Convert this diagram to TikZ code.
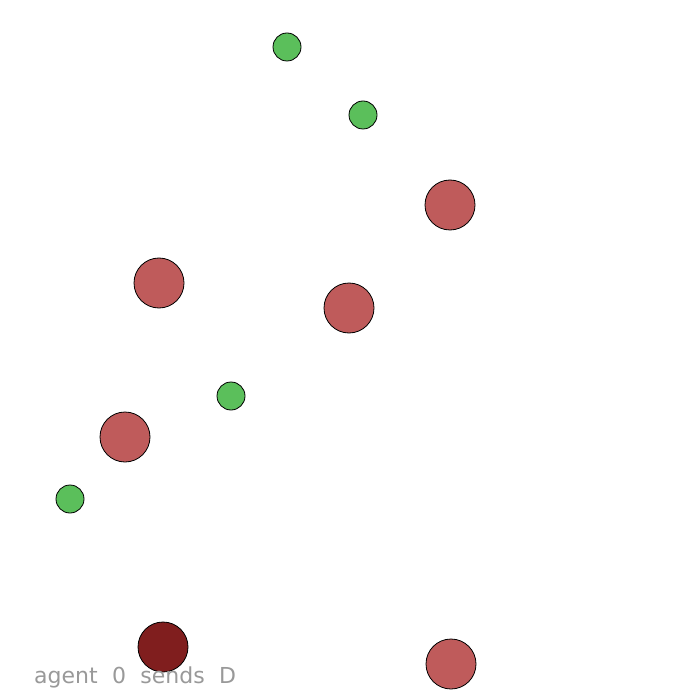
\documentclass[tikz,border=0pt]{standalone}
\usepackage{fontspec}
\setsansfont{DejaVu Sans}
\definecolor{agentgreen}{RGB}{91,191,91}
\definecolor{agentred}{RGB}{191,91,91}
\definecolor{senderred}{RGB}{128,30,30}
\tikzset{
    small/.style={circle, draw=black, line width=0.8pt, fill=agentgreen, minimum size=28pt, inner sep=0pt},
    large/.style={circle, draw=black, line width=0.8pt, fill=agentred, minimum size=50pt, inner sep=0pt},
}
\begin{document}
\begin{tikzpicture}[x=1pt, y=-1pt]
            \useasboundingbox[fill=white] (0,0) rectangle (700,700);
            % Green agents
            \foreach \n/\x/\y in {g1/287/47, g2/363/115, g3/231/396, g4/70/499} {
                    \node[small] (\n) at (\x,\y) {};
                }
            % Red agents
            \foreach \n/\x/\y in {r1/450/205, r2/159/283, r3/349/308, r4/125/437, r5/451/664} {
                    \node[large] (\n) at (\x,\y) {};
                }
            \node[large, fill=senderred] (sender) at (163,647) {};
            % Message
            \node[anchor=base west, inner sep=0pt, text=black!40, font=\sffamily\fontsize{22}{22}\selectfont] (msg) at (34,683) {agent\,\, 0\,\, sends\,\, D};
        \end{tikzpicture}
\end{document}
